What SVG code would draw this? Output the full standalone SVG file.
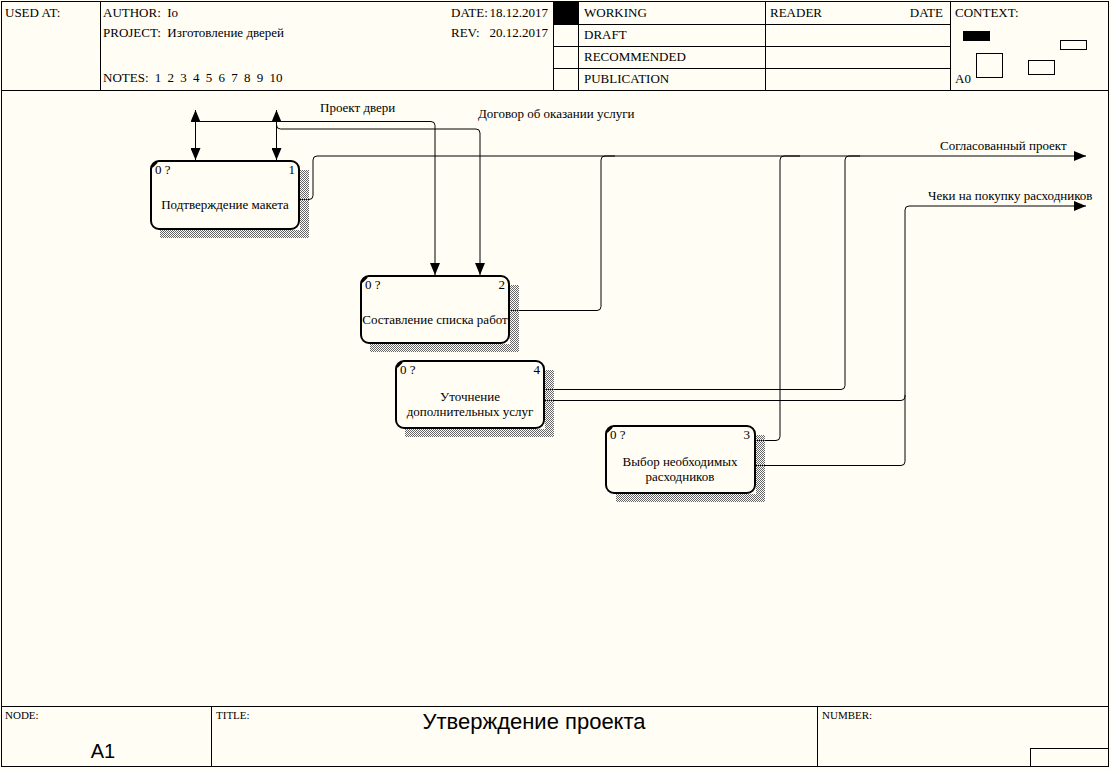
<svg xmlns="http://www.w3.org/2000/svg" width="1111" height="769" viewBox="0 0 1111 769">
<style>
text{font-family:"Liberation Serif","Times New Roman",serif;font-size:13px;fill:#000;white-space:pre}
.sm{font-size:11px}
.big{font-family:"Liberation Sans",Arial,sans-serif;font-size:20px}
.title{font-family:"Liberation Sans",Arial,sans-serif;font-size:22px}
.frame{fill:none;stroke:#000;stroke-width:1}
.box{fill:#fffdf4;stroke:#000;stroke-width:2}
.shadow{fill:url(#hatch)}
.conn{fill:none;stroke:#000;stroke-width:1}
</style>
<defs>
<pattern id="hatch" width="2" height="2" patternUnits="userSpaceOnUse">
<rect x="0" y="0" width="1" height="1" fill="#666"/>
<rect x="1" y="1" width="1" height="1" fill="#666"/>
</pattern>
<marker id="arr" markerWidth="12" markerHeight="10" refX="12" refY="5" orient="auto-start-reverse" markerUnits="userSpaceOnUse">
<path d="M0,0 L12,5 L0,10 z" fill="#000"/>
</marker>
</defs>
<rect x="0" y="0" width="1111" height="769" fill="#fffdf4"/>
<g id="frame">
<rect class="frame" x="1.5" y="1.5" width="1107" height="765"/>
<line class="frame" x1="1" y1="90.5" x2="1109" y2="90.5"/>
<line class="frame" x1="100.5" y1="1" x2="100.5" y2="90"/>
<line class="frame" x1="553.5" y1="1" x2="553.5" y2="90"/>
<line class="frame" x1="578.5" y1="1" x2="578.5" y2="90"/>
<line class="frame" x1="765.5" y1="1" x2="765.5" y2="90"/>
<line class="frame" x1="950.5" y1="1" x2="950.5" y2="90"/>
<line class="frame" x1="553" y1="24.5" x2="950" y2="24.5"/>
<line class="frame" x1="553" y1="46.5" x2="950" y2="46.5"/>
<line class="frame" x1="553" y1="68.5" x2="950" y2="68.5"/>
<rect x="554" y="2" width="24" height="22" fill="#000"/>
<rect x="963" y="31" width="27" height="10" fill="#000"/>
<rect class="frame" x="1060.5" y="40.5" width="26" height="9"/>
<rect class="frame" x="976.5" y="53.5" width="26" height="24"/>
<rect class="frame" x="1028.5" y="60.5" width="26" height="14"/>
<line class="frame" x1="1" y1="706.5" x2="1109" y2="706.5"/>
<line class="frame" x1="211.5" y1="706" x2="211.5" y2="767"/>
<line class="frame" x1="817.5" y1="706" x2="817.5" y2="767"/>
<rect class="frame" x="1030.5" y="748.5" width="78" height="18"/>
<text x="5" y="17">USED AT:</text>
<text x="103" y="17">AUTHOR:  Io</text>
<text x="103" y="37">PROJECT:  Изготовление дверей</text>
<text x="103" y="82" word-spacing="3">NOTES: 1 2 3 4 5 6 7 8 9 10</text>
<text x="451" y="17">DATE:</text>
<text x="548" y="17" text-anchor="end">18.12.2017</text>
<text x="451" y="37">REV:</text>
<text x="548" y="37" text-anchor="end">20.12.2017</text>
<text x="584" y="17">WORKING</text>
<text x="584" y="39">DRAFT</text>
<text x="584" y="61">RECOMMENDED</text>
<text x="584" y="83">PUBLICATION</text>
<text x="770" y="17">READER</text>
<text x="943" y="17" text-anchor="end">DATE</text>
<text x="955" y="17">CONTEXT:</text>
<text x="955" y="83">A0</text>
<text class="sm" x="5" y="719">NODE:</text>
<text class="sm" x="216" y="719">TITLE:</text>
<text class="sm" x="822" y="719">NUMBER:</text>
<text class="big" x="103" y="758" text-anchor="middle">A1</text>
<text class="title" x="534" y="729" text-anchor="middle">Утверждение проекта</text>
</g>
<g id="connectors">
<path class="conn" d="M195.5,110 V160" marker-start="url(#arr)" marker-end="url(#arr)"/>
<path class="conn" d="M276.5,110 V160" marker-start="url(#arr)" marker-end="url(#arr)"/>
<path class="conn" d="M195,121.5 H431 q4,0 4,4 V275" marker-end="url(#arr)"/>
<path class="conn" d="M276.5,125 q0,4 4,4 H476 q4,0 4,4 V275" marker-end="url(#arr)"/>
<path class="conn" d="M299,199.5 H309 q4,0 4,-4 V160 q0,-4 4,-4 H1086" marker-end="url(#arr)"/>
<path class="conn" d="M509,310.5 H597 q4,0 4,-4 V160 q0,-4 4,-4 H615"/>
<path class="conn" d="M544,389.5 H841 q4,0 4,-4 V160 q0,-4 4,-4 H860"/>
<path class="conn" d="M755,440.5 H776 q4,0 4,-4 V160 q0,-4 4,-4 H800"/>
<path class="conn" d="M544,400.5 H901 q4,0 4,-4 V210 q0,-4 4,-4 H1086" marker-end="url(#arr)"/>
<path class="conn" d="M755,465.5 H901 q4,0 4,-4 V395"/>
<text x="320" y="112">Проект двери</text>
<text x="478" y="118">Договор об оказании услуги</text>
<text x="940" y="150">Согласованный проект</text>
<text x="928" y="200">Чеки на покупку расходников</text>
</g>
<g id="node1">
<path class="shadow" d="M300,170 h9 v68 h-149 v-8 h140 z"/>
<rect class="box" x="151" y="161" width="148" height="68" rx="8"/>
<line x1="152" y1="167" x2="157" y2="162" stroke="#000" stroke-width="2"/>
<text x="155" y="174">0 ?</text>
<text x="295" y="174" text-anchor="end">1</text>
<text x="225" y="209" text-anchor="middle">Подтверждение макета</text>
</g>
<g id="node2">
<path class="shadow" d="M510,285 h9 v67 h-149 v-8 h140 z"/>
<rect class="box" x="361" y="276" width="148" height="67" rx="8"/>
<line x1="362" y1="282" x2="367" y2="277" stroke="#000" stroke-width="2"/>
<text x="365" y="289">0 ?</text>
<text x="505" y="289" text-anchor="end">2</text>
<text x="435" y="324" text-anchor="middle">Составление списка работ</text>
</g>
<g id="node4">
<path class="shadow" d="M545,370 h9 v67 h-149 v-8 h140 z"/>
<rect class="box" x="396" y="361" width="148" height="67" rx="8"/>
<line x1="397" y1="367" x2="402" y2="362" stroke="#000" stroke-width="2"/>
<text x="400" y="374">0 ?</text>
<text x="540" y="374" text-anchor="end">4</text>
<text x="470" y="401" text-anchor="middle">Уточнение</text>
<text x="470" y="416" text-anchor="middle">дополнительных услуг</text>
</g>
<g id="node3">
<path class="shadow" d="M756,435 h9 v67 h-149 v-8 h140 z"/>
<rect class="box" x="606" y="426" width="149" height="67" rx="8"/>
<line x1="607" y1="432" x2="612" y2="427" stroke="#000" stroke-width="2"/>
<text x="610" y="439">0 ?</text>
<text x="750" y="439" text-anchor="end">3</text>
<text x="680" y="466" text-anchor="middle">Выбор необходимых</text>
<text x="680" y="481" text-anchor="middle">расходников</text>
</g>
</svg>
